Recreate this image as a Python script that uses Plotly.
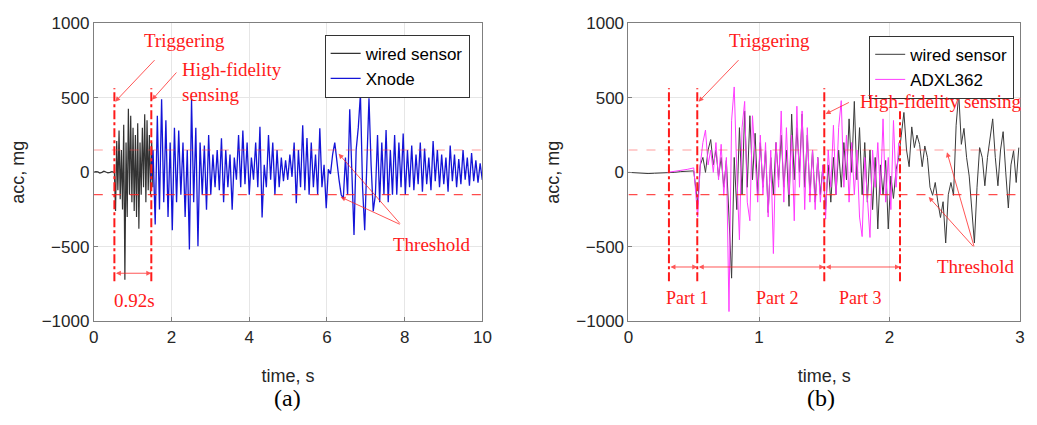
import numpy as np
import plotly.graph_objects as go

# ---------------- data (a) ----------------
a_wired_pre_t0, a_wired_pre_dt = 0.0, 0.052
a_wired_pre = [0, 5, 3, -5, 0, 8, 2, -3, 0, 5, 0]
a_wired_t0, a_wired_dt = 0.53, 0.03
a_wired = [0, -260, 210, -120, 280, -180, 150, -250, 320, -720, 200, -300, 427, -150, 380,
           -200, 300, -260, 250, -300, 330, -378, 200, -150, 300, -100, 390, -200, 350, -120,
           250, -150, 200, -100]
a_xnode_t0, a_xnode_dt = 1.47, 0.055
a_xnode = [-50, 150, -350, 380, -250, 491, -200, 350, -300, 200, -389, 300, -200, 280, -150,
           200, -300, 150, -517, 491, -200, 300, -496, 200, -150, 180, -250, 250, -150, 120,
           -100, 150, -120, 228, -200, 150, -100, 120, -250, 100, -50, 250, -100, 280, -80,
           200, -150, 100, -50, 200, -100, 306, -303, 50, -100, 250, -50, 200, -150, 150,
           -100, 100, -60, 80, -50, 120, -30, 200, -207, 150, -100, 316, -120, 230, -150,
           200, -100, 120, -150, 295, -100, 50, -240, 20, -10, 120, 199, 60, -50, -150,
           -175, 100, -150, 423, -50, -421, 150, 300, 526, -100, -389, 100, 497, 50, -260,
           -150, 250, -200, 200, -150, 284, -200, 150, -150, 250, -150, 200, -100, 260, -150,
           150, -100, 180, -120, 120, -80, 200, -130, 160, -80, 100, -120, 210, -60, 150,
           -100, 120, -80, 100, -130, 180, -60, 120, -100, 90, -80, 150, -50, 100, -90,
           130, -60, 80, -70, 60, -50]

# ---------------- data (b) ----------------
b_wired_pre_t0, b_wired_pre_dt = 0.0, 0.05
b_wired_pre = [0, -3, -5, -8, -6, -5, -3, 0, 5, 8, 10]
b_wired_t0, b_wired_dt = 0.53, 0.02
b_wired = [-215, 50, 100, 0, 150, 220, 50, 150, -30, 100, -100, 80, -300, -710, 100, -250,
           300, -150, 412, -100, 380, -50, 262, -150, 200, -100, 150, -270, 100, -150, 200,
           -50, 250, -100, 150, -228, 391, -50, 300, 0, 391, -100, 250, -150, 150, -200, 100,
           -150, 50, -250, 50, -200, 100, -150, 150, -100, 200, -50, 359, 0, 476, -50, 300,
           -150, 200, -200, 150, -250, 100, -380, 50, -150, 80, -380, -25, -175, 17, 100,
           250, 402, 150, 38, 305, 166, 250, 188, 38, 177, 100, -100, -154, -68, -200, -303,
           -197, -474, -150, -68, -154, 316, 530, 188, 295, 100, -25, -250, -474, -100, 166,
           100, -90, 100, 250, 359, 100, -90, 150, 273, 0, -239, 50, 145, -68, 166]
b_adxl_pre_t0, b_adxl_pre_dt = 0.30, 0.05
b_adxl_pre = [0, 5, 10, 20, 30]
b_adxl_t0, b_adxl_dt = 0.53, 0.02
b_adxl = [-300, 50, 200, 284, 50, 150, 0, 200, -50, 188, -154, 100, -934, 349, 573, 0, -453,
          300, 476, -200, -325, 380, 100, -200, 250, -150, 200, -300, 150, -545, 200, -100,
          412, -200, 300, -150, 250, -325, 444, -100, 412, -250, 300, -200, 150, -250, 100,
          -200, 50, -314, 150, -100, 316, -150, 300, 481, -100, 250, -200, 200, -150, 150,
          -300, -431, 100, -200, -437, 150, -100, 200, -150, 359, -200, 100, -250, 348, -100,
          200]

threshold = 150
a_marks = [0.53, 1.48]
b_marks = [0.31, 0.527, 1.50, 2.08]


def series(t0, dt, vals):
    return [t0 + dt * i for i in range(len(vals))], vals


fig = go.Figure()

t1, v1 = series(a_wired_pre_t0, a_wired_pre_dt, a_wired_pre)
t2, v2 = series(a_wired_t0, a_wired_dt, a_wired)
fig.add_trace(go.Scatter(x=t1 + t2, y=v1 + v2, mode="lines", name="wired sensor",
                         line=dict(color="#333333", width=1.2), xaxis="x", yaxis="y",
                         legend="legend"))
t3, v3 = series(a_xnode_t0, a_xnode_dt, a_xnode)
fig.add_trace(go.Scatter(x=t3, y=v3, mode="lines", name="Xnode",
                         line=dict(color="#1414d8", width=1.3), xaxis="x", yaxis="y",
                         legend="legend"))

t1, v1 = series(b_wired_pre_t0, b_wired_pre_dt, b_wired_pre)
t2, v2 = series(b_wired_t0, b_wired_dt, b_wired)
fig.add_trace(go.Scatter(x=t1 + t2, y=v1 + v2, mode="lines", name="wired sensor",
                         line=dict(color="#3a3a3a", width=1), xaxis="x2", yaxis="y2",
                         legend="legend2"))
t3, v3 = series(b_adxl_pre_t0, b_adxl_pre_dt, b_adxl_pre)
t4, v4 = series(b_adxl_t0, b_adxl_dt, b_adxl)
fig.add_trace(go.Scatter(x=t3 + t4, y=v3 + v4, mode="lines", name="ADXL362",
                         line=dict(color="#ff3cff", width=1), xaxis="x2", yaxis="y2",
                         legend="legend2"))

RED = "#ff1a1a"
SERIF = "Liberation Serif"
shapes = []
for xr, yr, xmax in (("x", "y", 10), ("x2", "y2", 3)):
    shapes.append(dict(type="line", xref=xr, yref=yr, x0=0, x1=xmax, y0=threshold,
                       y1=threshold,
                       line=dict(color="rgba(255,60,60,0.5)", width=1.2, dash="dash")))
    shapes.append(dict(type="line", xref=xr, yref=yr, x0=0, x1=xmax, y0=-threshold,
                       y1=-threshold,
                       line=dict(color="rgba(255,30,30,0.8)", width=1.2, dash="dash")))
for m in a_marks:
    shapes.append(dict(type="line", xref="x", yref="y", x0=m, x1=m, y0=-730, y1=565,
                       line=dict(color=RED, width=2, dash="dashdot")))
for i, m in enumerate(b_marks):
    shapes.append(dict(type="line", xref="x2", yref="y2", x0=m, x1=m, y0=-730,
                       y1=565 if i < 3 else 410,
                       line=dict(color=RED, width=2, dash="dashdot")))

ann = []


def text(x, y, s, xr, yr, xanchor="center", size=19):
    ann.append(dict(x=x, y=y, xref=xr, yref=yr, text=s, showarrow=False, xanchor=xanchor,
                    font=dict(family=SERIF, size=size, color=RED), align="left"))


def arrow(x, y, ax, ay, xr, yr, both=False):
    ann.append(dict(x=x, y=y, ax=ax, ay=ay, xref=xr, yref=yr, axref=xr, ayref=yr, text="",
                    showarrow=True, arrowhead=2, arrowsize=1, arrowwidth=1,
                    arrowcolor="rgba(255,30,30,0.75)",
                    arrowside="end+start" if both else "end", startarrowhead=2))


# (a)
text(2.34, 885, "Triggering", "x", "y")
arrow(0.55, 474, 1.6, 763, "x", "y")
text(2.23, 603, "High-fidelity<br>sensing", "x", "y", xanchor="left")
arrow(1.5, 487, 2.16, 680, "x", "y")
text(8.69, -487, "Threshold", "x", "y")
arrow(6.30, 125, 7.91, -353, "x", "y")
arrow(6.35, -165, 7.91, -353, "x", "y")
arrow(1.48, -677, 0.53, -677, "x", "y", both=True)
text(1.06, -860, "0.92s", "x", "y")
# (b)
text(1.08, 885, "Triggering", "x2", "y2")
arrow(0.537, 474, 0.854, 763, "x2", "y2")
text(1.76, 474, "High-fidelity sensing", "x2", "y2", xanchor="left")
arrow(1.51, 391, 1.70, 474, "x2", "y2")
text(2.66, -635, "Threshold", "x2", "y2")
arrow(2.44, 135, 2.65, -506, "x2", "y2")
arrow(2.30, -165, 2.65, -506, "x2", "y2")
arrow(0.527, -635, 0.31, -635, "x2", "y2", both=True)
arrow(1.50, -635, 0.527, -635, "x2", "y2", both=True)
arrow(2.08, -635, 1.50, -635, "x2", "y2", both=True)
text(0.45, -846, "Part 1", "x2", "y2", size=18)
text(1.14, -846, "Part 2", "x2", "y2", size=18)
text(1.78, -846, "Part 3", "x2", "y2", size=18)

# panel labels
for xp, s in ((286 / 1037, "(a)"), (827 / 1037, "(b)")):
    ann.append(dict(x=xp, y=1 - 407 / 425, xref="paper", yref="paper", text=s,
                    showarrow=False, xanchor="center", yanchor="middle",
                    font=dict(family=SERIF, size=24, color="black")))

SANS = "Liberation Sans"
axis_common = dict(showgrid=True, gridcolor="#e6e6e6", gridwidth=1, showline=True,
                   linecolor="#7f7f7f", linewidth=1, mirror=True, ticks="inside", ticklen=4,
                   tickcolor="#7f7f7f", zeroline=False,
                   tickfont=dict(family=SANS, size=17, color="#262626"))
ydom = [1 - 327 / 425, 1 - 15 / 425]
tfont = dict(family=SANS, size=18, color="#262626")

fig.update_layout(
    width=1037, height=425, margin=dict(l=0, r=0, t=0, b=0),
    paper_bgcolor="white", plot_bgcolor="white",
    xaxis=dict(domain=[90 / 1037, 484 / 1037], range=[0, 10], tickvals=[0, 2, 4, 6, 8, 10],
               anchor="y", title=dict(text="time, s", standoff=23, font=tfont),
               **axis_common),
    yaxis=dict(domain=ydom, range=[-1000, 1000], tickvals=[-1000, -500, 0, 500, 1000],
               anchor="x", title=dict(text="acc, mg", standoff=12, font=tfont),
               **axis_common),
    xaxis2=dict(domain=[632 / 1037, 1029 / 1037], range=[0, 3], tickvals=[0, 1, 2, 3],
                anchor="y2", title=dict(text="time, s", standoff=23, font=tfont),
                **axis_common),
    yaxis2=dict(domain=ydom, range=[-1000, 1000], tickvals=[-1000, -500, 0, 500, 1000],
                anchor="x2", title=dict(text="acc, mg", standoff=12, font=tfont),
                **axis_common),
    legend=dict(x=471 / 1037, y=1 - 27 / 425, xanchor="right", yanchor="top",
                bgcolor="white", bordercolor="#333333", borderwidth=1,
                font=dict(family=SANS, size=17, color="black"), tracegroupgap=0,
                itemwidth=30),
    legend2=dict(x=1023 / 1037, y=1 - 28 / 425, xanchor="right", yanchor="top",
                 bgcolor="white", bordercolor="#333333", borderwidth=1,
                 font=dict(family=SANS, size=17, color="black"), tracegroupgap=0,
                 itemwidth=30),
    shapes=shapes, annotations=ann, showlegend=True,
)

fig.write_html("out.html")
